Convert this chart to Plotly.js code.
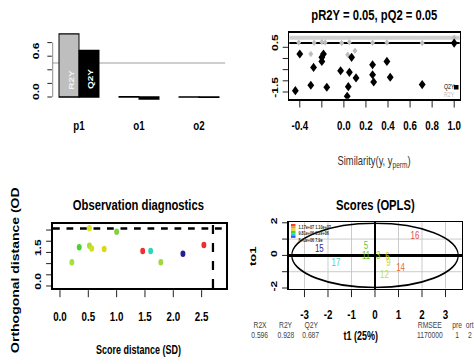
<!DOCTYPE html>
<html>
<head>
<meta charset="utf-8">
<script src="https://cdn.plot.ly/plotly-3.0.1.min.js"></script>
<style>
html,body{margin:0;padding:0;background:#fff;overflow:hidden;}
#wrap{width:474px;height:364px;overflow:hidden;}
#chart{width:632px;height:364px;transform:scaleX(0.75);transform-origin:0 0;}
</style>
</head>
<body>
<div id="wrap"><div id="chart"></div></div>
<script>
// ---------- data ----------
const barCats = ['p1', 'o1', 'o2'];
const barR2Y = [0.928, 0.006, 0.003];
const barQ2Y = [0.687, -0.03, -0.004];
const q2Threshold = 0.5;

const pR2Y = 0.05, pQ2 = 0.05;
const permR2Ysim = [-0.41, -0.27, -0.20, -0.17, -0.02, 0.05, 0.26, 0.39, 0.71, -0.30, 0.035, 0.10, 1.0];
const permR2Yval = [0.72, 0.70, 0.74, 0.71, 0.69, 0.73, 0.70, 0.72, 0.69, 0.20, 0.17, 0.35, 0.928];
const permQ2Ysim = [-0.40, -0.44, -0.275, -0.30, -0.185, -0.20, -0.20, -0.155, -0.03, 0.07, 0.05, 0.11, 0.04, 0.03, 0.26, 0.26, 0.27, 0.39, 0.42, 0.71, 1.0];
const permQ2Yval = [0.20, -1.44, -0.40, -1.20, 0.20, 0.05, -0.13, -1.29, -0.55, 0.05, -0.62, -0.87, -1.26, -1.69, -0.28, -0.73, -1.05, -0.13, -0.84, -1.17, 0.687];
const modelR2Y = 0.928, modelQ2Y = 0.687;

const sdVals = [0.21, 0.34, 0.52, 0.52, 0.56, 0.78, 1.00, 1.46, 1.60, 1.78, 2.17, 2.54];
const odVals = [1.06, 1.73, 2.58, 1.80, 1.68, 1.65, 2.42, 1.56, 1.56, 1.06, 1.44, 1.83];
const obsColors = ['#A8E040', '#50D030', '#D8E030', '#A8E030', '#D0E020', '#D8D820', '#80D040', '#F03030', '#30D8B0', '#A0D840', '#202090', '#E83030'];
const sdCutoff = 2.70, odCutoff = 2.57;

const scoreLabels = ['16', '15', '17', '5', '11', '3', '6', '9', '14', '12'];
const t1Vals = [1.70, -2.37, -1.66, -0.38, -0.38, 0.14, 0.53, 0.57, 1.09, 0.40];
const to1Vals = [1.15, 0.34, -0.48, 0.56, -0.09, -0.05, -0.13, -0.47, -0.79, -1.20];
const scoreColors = ['#E84848', '#2828A0', '#40D0C0', '#60C830', '#60C830', '#90D030', '#D0D020', '#C8D820', '#F06830', '#B8E040'];
const ellA = 3.54, ellB = 1.97;
const legendColors = ['#F04030', '#F0A020', '#E0E020', '#40D040', '#20D0D0', '#3050F0'];
const legendTexts = ['1.17e+07 1.10e+07', '9.81e+06 9.2e+06', '8.43e+06 7.9e'];

const statNames = ['R2X', 'R2Y', 'Q2Y', 'RMSEE', 'pre', 'ort'];
const statValues = ['0.596', '0.928', '0.687', '1170000', '1', '2'];

// ---------- helpers ----------
const W = 474, H = 364, SX = 0.75;   // drawn wide, then squeezed horizontally like the reference
const xd = (a, b) => [a / W, b / W];
const yd = (top, bot) => [1 - bot / H, 1 - top / H];
const px = x => x / W, py = y => 1 - y / H;
const FONT = 'Liberation Sans, Arial, sans-serif';
const bFont = (s, c) => ({family: FONT, size: s, color: c || '#000', weight: 'bold'});
const rFont = (s, c) => ({family: FONT, size: s, color: c || '#000'});

const ann = [];
const shapes = [];
function txt(x, y, text, font, opts) {
  ann.push(Object.assign({xref: 'paper', yref: 'paper', x: px(x), y: py(y), text: text, showarrow: false, font: font, xanchor: 'center', yanchor: 'middle'}, opts || {}));
}
// rotated y tick labels placed on the axis scale (drawn slightly above the tick, as in the reference)
function yLabels(yref, xPix, vals, texts) {
  vals.forEach((v, i) => ann.push({xref: 'paper', yref: yref, x: px(xPix), y: v, yshift: 5, text: texts[i], showarrow: false,
    font: bFont(12), textangle: -90, xanchor: 'center', yanchor: 'middle'}));
}

// ---------- traces ----------
const traces = [];
traces.push({type: 'bar', xaxis: 'x', yaxis: 'y', x: barCats.map((c, i) => 3 * i + 1.5), y: barR2Y, width: 1,
  marker: {color: '#BEBEBE', line: {color: '#000', width: 1.3}}, showlegend: false, hoverinfo: 'skip'});
traces.push({type: 'bar', xaxis: 'x', yaxis: 'y', x: barCats.map((c, i) => 3 * i + 2.5), y: barQ2Y, width: 1,
  marker: {color: '#000', line: {color: '#000', width: 1.3}}, showlegend: false, hoverinfo: 'skip'});
traces.push({type: 'scatter', mode: 'markers', xaxis: 'x2', yaxis: 'y2', x: permR2Ysim, y: permR2Yval,
  marker: {symbol: 'diamond', size: 5, color: '#BDBDBD'}, showlegend: false});
traces.push({type: 'scatter', mode: 'markers', xaxis: 'x2', yaxis: 'y2', x: permQ2Ysim, y: permQ2Yval,
  marker: {symbol: 'diamond', size: 7, color: '#000'}, showlegend: false});
traces.push({type: 'scatter', mode: 'markers', xaxis: 'x3', yaxis: 'y3', x: sdVals, y: odVals,
  marker: {size: 6.5, color: obsColors}, showlegend: false});
traces.push({type: 'scatter', mode: 'text', xaxis: 'x4', yaxis: 'y4', x: t1Vals, y: to1Vals, text: scoreLabels,
  textfont: {family: FONT, size: 10.5, color: scoreColors}, showlegend: false});

// ---------- shapes ----------
shapes.push({type: 'line', xref: 'x', yref: 'y', x0: 0.68, x1: 0.68, y0: 0, y1: 0.8, line: {color: '#000', width: 1.3}});
shapes.push({type: 'line', xref: 'x', yref: 'y', x0: 0.68, x1: 9.32, y0: q2Threshold, y1: q2Threshold, line: {color: '#BEBEBE', width: 1.5}, layer: 'below'});
shapes.push({type: 'line', xref: 'x2 domain', yref: 'y2', x0: 0, x1: 1, y0: modelR2Y, y1: modelR2Y, line: {color: '#CFCFCF', width: 4}, layer: 'below'});
shapes.push({type: 'line', xref: 'x2 domain', yref: 'y2', x0: 0, x1: 1, y0: modelQ2Y, y1: modelQ2Y, line: {color: '#000', width: 2}, layer: 'below'});
shapes.push({type: 'line', xref: 'x3 domain', yref: 'y3', x0: 0, x1: 1, y0: odCutoff, y1: odCutoff, line: {color: '#000', width: 2.5, dash: 'dash'}});
shapes.push({type: 'line', xref: 'x3', yref: 'y3 domain', x0: sdCutoff, x1: sdCutoff, y0: 0, y1: 1, line: {color: '#000', width: 3, dash: 'dash'}});
shapes.push({type: 'circle', xref: 'x4', yref: 'y4', x0: -ellA, x1: ellA, y0: -ellB, y1: ellB, line: {color: '#000', width: 1.6}});
legendColors.forEach((c, i) => {
  shapes.push({type: 'rect', xref: 'paper', yref: 'paper', x0: px(291), x1: px(295.5), y0: py(224 + (i + 1) * 2.3), y1: py(224 + i * 2.3), fillcolor: c, line: {width: 0}});
});
shapes.push({type: 'rect', xref: 'paper', yref: 'paper', x0: px(454), x1: px(458.5), y0: py(89.5), y1: py(85), fillcolor: '#000', line: {width: 0}});

// ---------- text ----------
txt(71, 80, 'R2Y', bFont(10, '#F2F2F2'), {textangle: -90});
txt(90, 79, 'Q2Y', bFont(10, '#FFFFFF'), {textangle: -90});

txt(374, 15, 'pR2Y = ' + pR2Y.toFixed(2) + ', pQ2 = ' + pQ2.toFixed(2), bFont(15));
txt(374, 162, 'Similarity(y, y<sub>perm</sub>)', rFont(12.5, '#333'));
txt(449, 87, 'Q2Y', rFont(7));
txt(449, 95, 'R2Y', rFont(7, '#BBBBBB'));

txt(138, 204, 'Observation diagnostics', bFont(15));
txt(138, 350, 'Score distance (SD)', bFont(12));
txt(15, 355, 'Orthogonal distance (OD', bFont(14), {textangle: -90, yanchor: 'bottom'});

txt(375, 204, 'Scores (OPLS)', bFont(15));
txt(252, 256, 'to1', bFont(13), {textangle: -90});
txt(361, 336, 't1 (25%)', bFont(12));
txt(297.5, 222.5, legendTexts.join('<br>'), bFont(5, '#2A2A2A'), {xanchor: 'left', yanchor: 'top', align: 'left', borderpad: 0});

const statX = [260, 286, 311, 430, 457, 470];
statNames.forEach((n, i) => {
  txt(statX[i], 325, n, rFont(9, '#444'));
  txt(statX[i], 335, statValues[i], rFont(9, '#444'));
});

yLabels('y', 36, [0, 0.6], ['0.0', '0.6']);
yLabels('y2', 275, [-1.5, 0.5], ['-1.5', '0.5']);
yLabels('y3', 38, [0, 1.5], ['0.0', '1.5']);

// ---------- layout ----------
const axBase = {ticks: 'outside', ticklen: 7, tickcolor: '#000', tickwidth: 1, showgrid: false, zeroline: false, fixedrange: true};
const boxed = {showline: true, mirror: true, linecolor: '#000'};
const yTick = {tickangle: -90, tickfont: bFont(12), ticklen: 7, ticklabelstandoff: 4};

const layout = {
  width: Math.round(W / SX), height: H, margin: {l: 0, r: 0, t: 0, b: 0}, paper_bgcolor: '#fff', plot_bgcolor: 'rgba(0,0,0,0)',
  showlegend: false, bargap: 0,
  xaxis: Object.assign({}, axBase, {domain: xd(52.6, 225.4), range: [0.68, 9.32], tickvals: barCats.map((c, i) => 3 * i + 2), ticktext: barCats,
    ticks: '', showline: false, tickfont: bFont(13), ticklabelstandoff: 14}),
  yaxis: Object.assign({}, axBase, yTick, {domain: yd(31.04, 101.76), range: [-0.07, 0.97], tickvals: [0, 0.2, 0.4, 0.6, 0.8],
    showticklabels: false, ticklen: 6, anchor: 'x'}),
  xaxis2: Object.assign({}, axBase, boxed, {domain: xd(289.3, 459.7), range: [-0.495, 1.05], anchor: 'y2', linewidth: 1.8,
    tickvals: [-0.4, -0.2, 0, 0.2, 0.4, 0.6, 0.8, 1.0], ticktext: ['-0.4', ' ', '0.0', '0.2', '0.4', '0.6', '0.8', '1.0'],
    tickfont: bFont(13), ticklabelstandoff: 7}),
  yaxis2: Object.assign({}, axBase, boxed, yTick, {domain: yd(33, 98.7), range: [-1.80, 1.14], anchor: 'x2', linewidth: 1.8,
    tickvals: [-1.5, -1, -0.5, 0, 0.5], showticklabels: false}),
  xaxis3: Object.assign({}, axBase, boxed, {domain: xd(53, 226), range: [-0.123, 2.93], anchor: 'y3', linewidth: 2.2,
    tickvals: [0, 0.5, 1, 1.5, 2, 2.5], ticktext: ['0.0', '0.5', '1.0', '1.5', '2.0', '2.5'], tickfont: bFont(13), ticklabelstandoff: 8}),
  yaxis3: Object.assign({}, axBase, boxed, yTick, {domain: yd(224, 288), range: [-0.09, 2.77], anchor: 'x3', linewidth: 2.2,
    tickvals: [0, 0.5, 1, 1.5, 2, 2.5], showticklabels: false}),
  xaxis4: Object.assign({}, axBase, boxed, {domain: xd(288.5, 461.5), range: [-3.68, 3.68], anchor: 'y4', linewidth: 1.6,
    showgrid: true, gridcolor: '#C4C4C4', gridwidth: 1, zeroline: true, zerolinecolor: '#000', zerolinewidth: 2.2,
    tickvals: [-3, -2, -1, 0, 1, 2, 3], ticktext: ['-3', '-2', '-1', '0', '1', '2', '3'], tickfont: bFont(13), ticklabelstandoff: 6}),
  yaxis4: Object.assign({}, axBase, boxed, yTick, {domain: yd(222.3, 288.5), range: [-2.03, 2.03], anchor: 'x4', linewidth: 1.6,
    showgrid: true, gridcolor: '#C4C4C4', gridwidth: 1, zeroline: true, zerolinecolor: '#000', zerolinewidth: 2.2,
    tickvals: [-2, -1, 0, 1, 2], ticktext: ['-2', ' ', '0', ' ', '2'], ticklabelstandoff: 2}),
  shapes: shapes,
  annotations: ann
};

Plotly.newPlot('chart', traces, layout, {staticPlot: true, displayModeBar: false});
</script>
</body>
</html>
